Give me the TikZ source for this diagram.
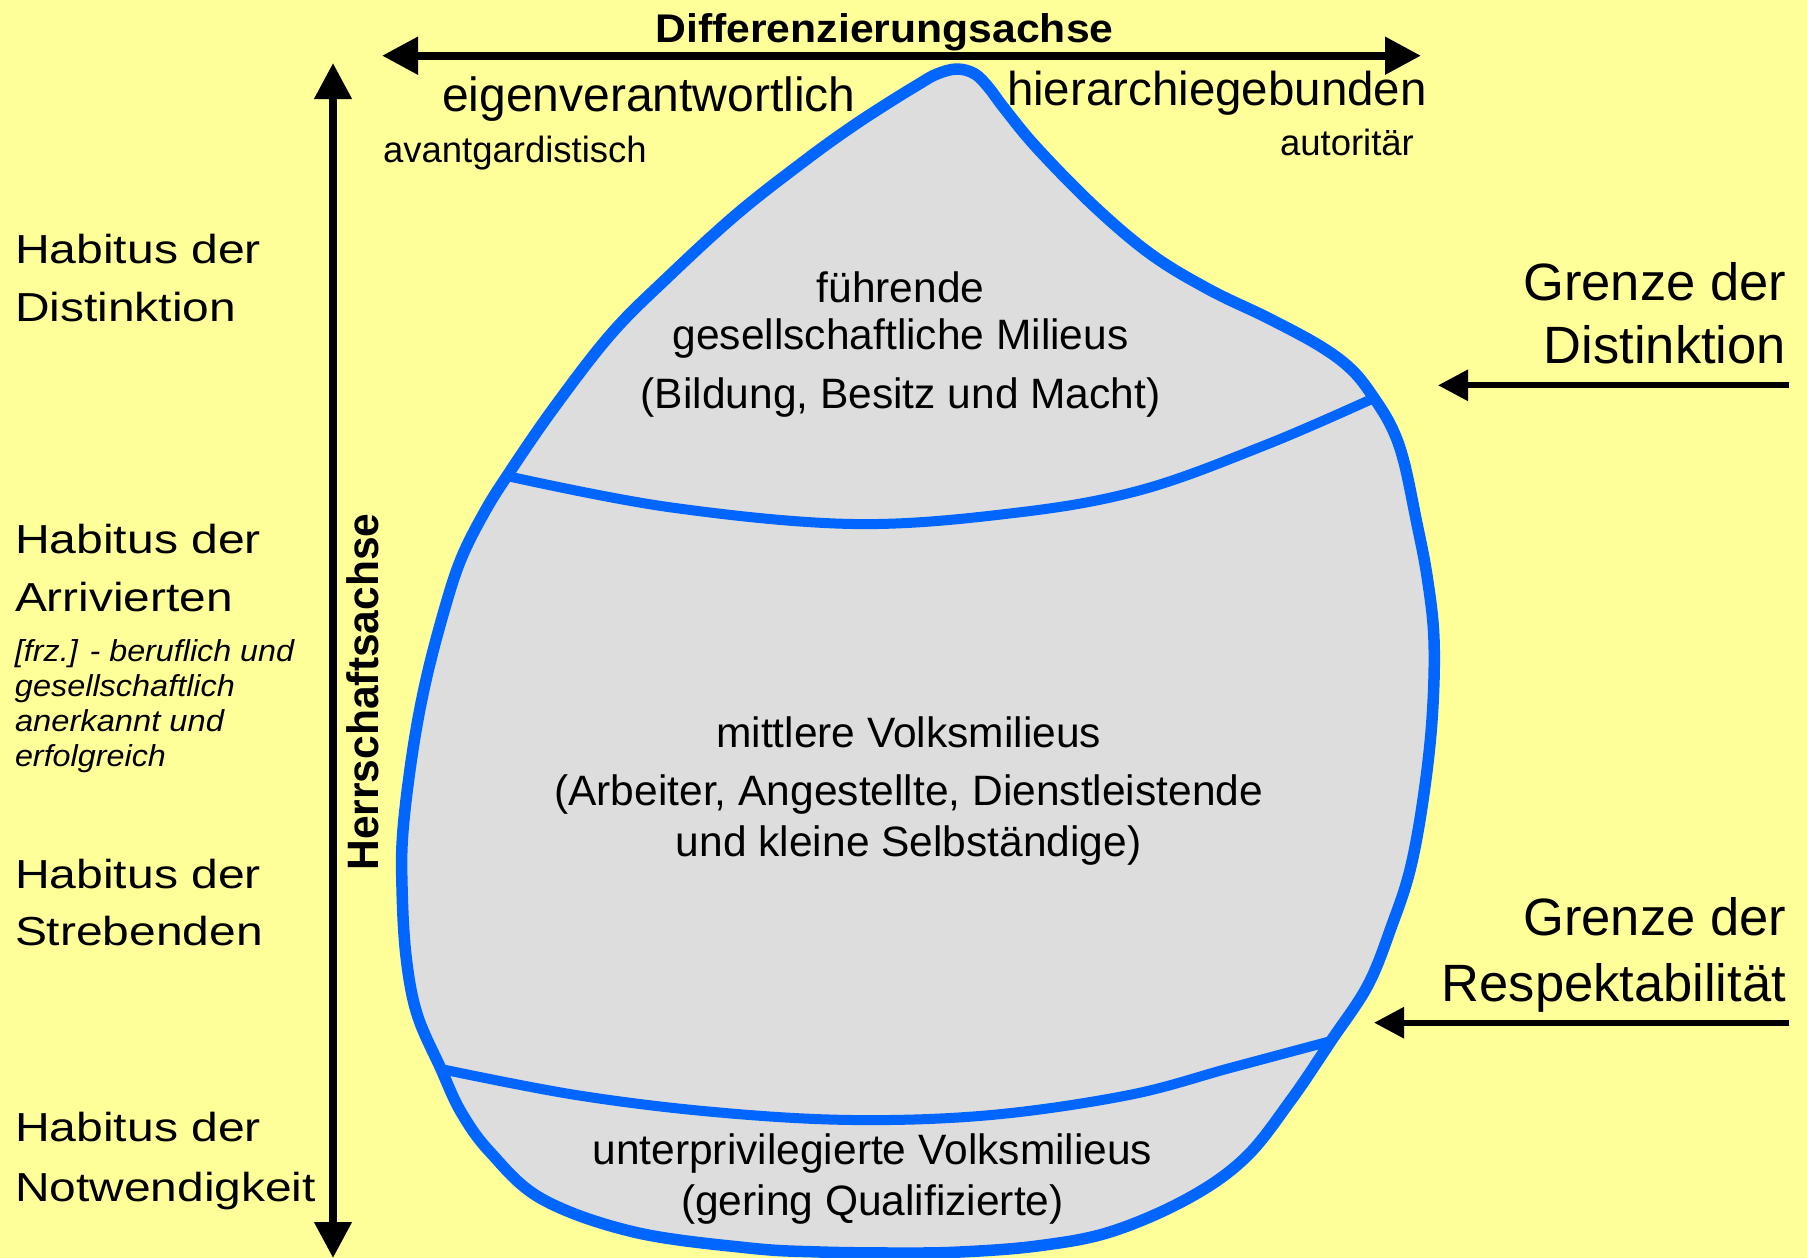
\documentclass[tikz,border=0pt]{standalone}
\usepackage{fontspec}
\setmainfont{Liberation Sans}
\usetikzlibrary{arrows.meta}
\definecolor{bgyellow}{RGB}{255,255,153}
\definecolor{blobgray}{RGB}{221,221,221}
\definecolor{blobblue}{RGB}{0,102,255}
\newcommand{\fitw}[2]{\resizebox{#1pt}{\height}{#2}}
\begin{document}
\begin{tikzpicture}[x=1pt,y=-1pt,
  lbl/.style={inner sep=0pt, outer sep=0pt},
  leftlab/.style={lbl, anchor=base west, font=\fontsize{40.5}{48}\selectfont},
  leftit/.style={lbl, anchor=base west, font=\fontsize{30.3}{36}\selectfont\itshape},
  rightlab/.style={lbl, anchor=base east, font=\fontsize{52.5}{62}\selectfont},
  toplab/.style={lbl, anchor=base west},
  blobtxt/.style={lbl, anchor=base, font=\fontsize{42.5}{50}\selectfont},
  outline/.style={draw=blobblue, line width=11.5pt, line join=round, fill=blobgray},
  divider/.style={draw=blobblue, line width=10pt},
  bigarrow/.style={line width=#1, {Triangle[length=36pt,width=36pt]}-{Triangle[length=36pt,width=36pt]}},
  boundarrow/.style={line width=6pt, -{Triangle[length=30pt,width=30pt]}}
]
\useasboundingbox (0,0) rectangle (1807,1258);
\fill[bgyellow] (0,0) rectangle (1807,1258);

% junctions of the dividing lines with the outline
\coordinate (j1) at (507,476);
\coordinate (j2) at (1374,398);
\coordinate (j3) at (441,1069);
\coordinate (j4) at (1331,1041);

% blob
\path[outline] plot[smooth cycle, tension=0.6] coordinates {
  (j1) (553,409) (611,334) (668,277) (738,213) (807,159) (850,128) (885,105)
  (919,84) (937,74) (957,69) (975,74) (989,88) (1004,108) (1037,148)
  (1095,207) (1152,255) (1210,290) (1268,318) (1320,346) (1352,370) (j2)
  (1392,428) (1404,462) (1416,519) (1427,576) (1434,640) (1432,720)
  (1423,800) (1410,870) (1392,925) (1368,985) (j4) (1291,1100) (1245,1158)
  (1187,1199) (1110,1232) (1037,1246) (960,1252) (899,1253) (820,1252)
  (749,1248) (634,1232) (542,1199) (490,1152) (461,1112) (j3) (417,1014)
  (406,956) (402,887) (403,830) (413,749) (426,680) (444,611) (461,559)
  (484,513)};

% dividing lines
\draw[divider] plot[smooth, tension=0.6] coordinates {
  (j1) (668,507) (853,524) (1014,513) (1141,490) (1268,444) (j2)};
\draw[divider] plot[smooth, tension=0.6] coordinates {
  (j3) (576,1095) (714,1112) (853,1120) (991,1115) (1129,1095) (1230,1068) (j4)};

% axes
\coordinate (dl) at (382,55.7);
\coordinate (dr) at (1421,55.7);
\draw[bigarrow=8pt] (dl) -- (dr);
\coordinate (ht) at (333,63);
\coordinate (hb) at (333,1258);
\draw[bigarrow=7.5pt] (hb) -- (ht);

% boundary arrows
\coordinate (r1s) at (1789,385.3);
\coordinate (r1e) at (1438,385.3);
\draw[boundarrow] (r1s) -- (r1e);
\coordinate (r2s) at (1789,1022.7);
\coordinate (r2e) at (1374,1022.7);
\draw[boundarrow] (r2s) -- (r2e);

% top texts
\node[lbl, anchor=base, font=\fontsize{40}{48}\selectfont\bfseries] (diff) at (884.5,42.7) {\fitw{458}{Differenzierungsachse}};
\node[toplab, font=\fontsize{48}{56}\selectfont] (eigen) at (442,111.7) {eigenverantwortlich};
\node[toplab, font=\fontsize{47.5}{56}\selectfont] (hier) at (1007,105) {hierarchiegebunden};
\node[toplab, font=\fontsize{36.5}{44}\selectfont] (avant) at (383,162.3) {avantgardistisch};
\node[toplab, font=\fontsize{36.5}{44}\selectfont] (auto) at (1280,155) {autoritär};
\node[lbl, anchor=base, rotate=90, font=\fontsize{44}{52}\selectfont\bfseries] (herr) at (378.3,692) {\fitw{357}{Herrschaftsachse}};

% left labels
\node[leftlab] (hd1) at (15,263.3) {\fitw{246}{Habitus der}};
\node[leftlab] (dist) at (15,321.7) {\fitw{221}{Distinktion}};
\node[leftlab] (hd2) at (15,553.3) {\fitw{246}{Habitus der}};
\node[leftlab] (arr) at (15,611.7) {\fitw{218}{Arrivierten}};
\node[leftit] (it1) at (15,661.7) {\fitw{279}{[frz.] - beruflich und}};
\node[leftit] (it2) at (15,696.7) {\fitw{220}{gesellschaftlich}};
\node[leftit] (it3) at (15,731.7) {\fitw{209}{anerkannt und}};
\node[leftit] (it4) at (15,766.7) {\fitw{151}{erfolgreich}};
\node[leftlab] (hd3) at (15,888.3) {\fitw{246}{Habitus der}};
\node[leftlab] (streb) at (15,945) {\fitw{248}{Strebenden}};
\node[leftlab] (hd4) at (15,1141.7) {\fitw{246}{Habitus der}};
\node[leftlab] (notw) at (15,1201.7) {\fitw{301}{Notwendigkeit}};

% right labels
\node[rightlab] (g1) at (1786,300) {Grenze der};
\node[rightlab] (g1b) at (1786,363.3) {Distinktion};
\node[rightlab] (g2) at (1786,935.7) {Grenze der};
\node[rightlab] (g2b) at (1786,1001) {Respektabilität};

% blob texts
\node[blobtxt] (f1) at (900.6,302) {führende};
\node[blobtxt] (f2) at (900.6,349) {gesellschaftliche Milieus};
\node[blobtxt] (f3) at (900.6,408.6) {(Bildung, Besitz und Macht)};
\node[blobtxt] (m1) at (908.7,747) {mittlere Volksmilieus};
\node[blobtxt] (m2) at (908.7,805) {(Arbeiter, Angestellte, Dienstleistende};
\node[blobtxt] (m3) at (908.7,856) {und kleine Selbständige)};
\node[blobtxt] (u1) at (872.4,1164.6) {unterprivilegierte Volksmilieus};
\node[blobtxt] (u2) at (872.4,1215) {(gering Qualifizierte)};
\end{tikzpicture}
\end{document}
